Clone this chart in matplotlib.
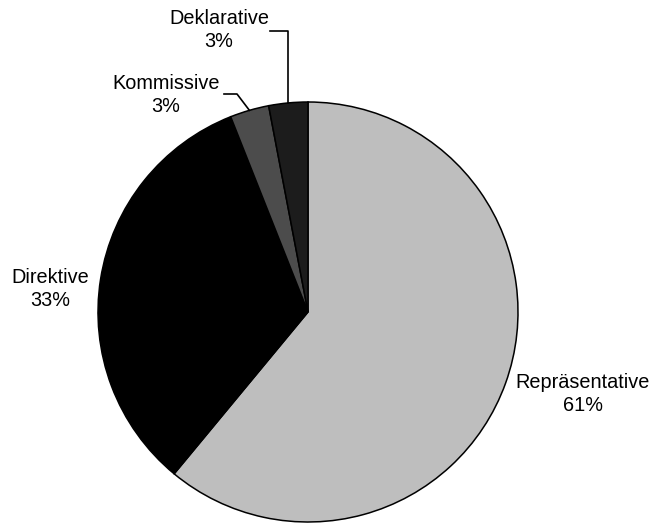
import numpy as np
import matplotlib
matplotlib.use("Agg")
import matplotlib.pyplot as plt

plt.rcParams['font.family'] = ['Liberation Sans', 'DejaVu Sans']

# Data
labels = ["Repräsentative", "Direktive", "Kommissive", "Deklarative"]
shares = [61, 33, 3, 3]
colors = ["#bebebe", "#000000", "#4c4c4c", "#1c1c1c"]

# Layout (pixels in a 651x526 image)
W, H = 651, 526
CX, CY, R = 308, 312, 210
label_px = {
    "Repräsentative": (583, 394),
    "Direktive": (50, 289),
    "Kommissive": (166, 95),
    "Deklarative": (219, 30),
}
# leader elbows: (elbow point, end point) in pixels, only for small slices
leader_px = {
    "Kommissive": [(237, 94), (224, 94)],
    "Deklarative": [(284, 31), (270, 31)],
}


def px(x, y):
    return (x - CX) / R, (CY - y) / R


fig = plt.figure(figsize=(W / 100, H / 100), dpi=100)
ax = fig.add_axes([0, 0, 1, 1])

wedges, _ = ax.pie(shares, colors=colors, startangle=90, counterclock=False,
                   radius=1, center=(0, 0), frame=True,
                   wedgeprops=dict(edgecolor='black', linewidth=1.1))
ax.set_xlim(px(0, 0)[0], px(W, 0)[0])
ax.set_ylim(px(0, H)[1], px(0, 0)[1])
ax.set_aspect('auto')
ax.axis('off')

for w, lab, val in zip(wedges, labels, shares):
    tx, ty = px(*label_px[lab])
    ax.text(tx, ty, f"{lab}\n{val}%", ha='center', va='center',
            fontsize=14.3, linespacing=1.25, color='black')
    if lab in leader_px:
        mid = np.deg2rad((w.theta1 + w.theta2) / 2)
        ex, ey = np.cos(mid), np.sin(mid)
        pts = [(ex, ey)] + [px(*p) for p in leader_px[lab]]
        if lab == "Deklarative":
            pts[1] = (ex, pts[1][1])
        xs, ys = zip(*pts)
        ax.plot(xs, ys, color='black', linewidth=1.2)

fig.savefig("out.png", dpi=100, facecolor='white')
